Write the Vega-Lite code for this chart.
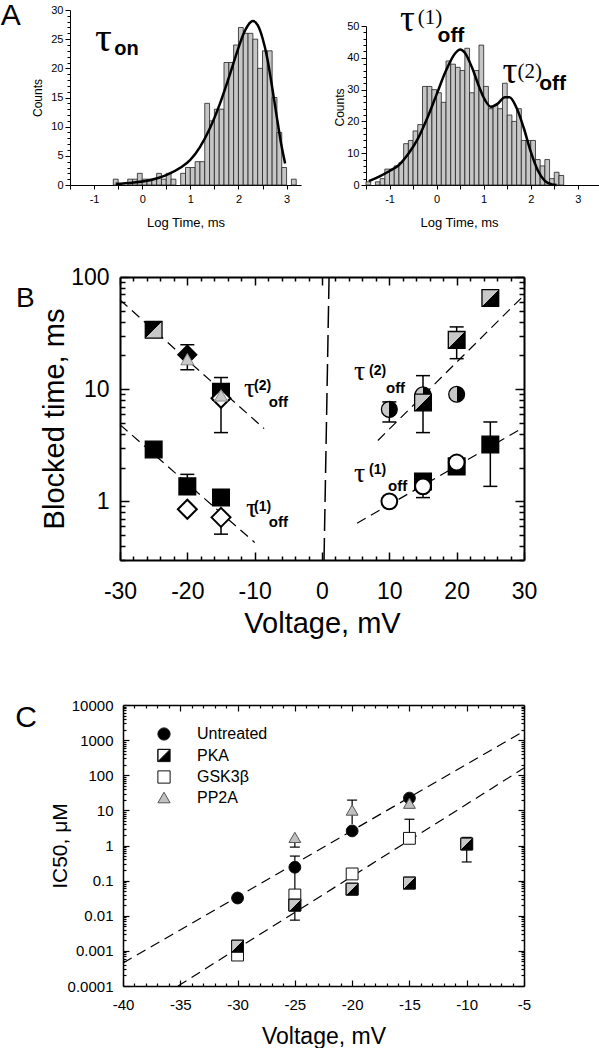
{
  "$schema": "https://vega.github.io/schema/vega-lite/v6.json",
  "padding": 0,
  "background": "white",
  "spacing": 0,
  "bounds": "flush",
  "config": {
    "view": {"stroke": null},
    "font": "Liberation Sans",
    "axis": {"grid": false, "labelColor": "black", "tickColor": "black", "domainColor": "black", "titleColor": "black", "labelFont": "Liberation Sans", "titleFont": "Liberation Sans", "titleFontWeight": "normal", "labelOverlap": false, "labelFlush": false, "labelBound": false},
    "text": {"font": "Liberation Sans", "color": "black"}
  },
  "datasets": {
    "histL": [
      {"x": -0.6, "xe": -0.5, "c": 1}, {"x": -0.3, "xe": -0.2, "c": 1}, {"x": -0.2, "xe": -0.1, "c": 1}, {"x": -0.1, "xe": 0, "c": 2},
      {"x": 0, "xe": 0.1, "c": 1}, {"x": 0.1, "xe": 0.2, "c": 1}, {"x": 0.2, "xe": 0.3, "c": 1}, {"x": 0.3, "xe": 0.4, "c": 2},
      {"x": 0.4, "xe": 0.5, "c": 1}, {"x": 0.5, "xe": 0.6, "c": 2}, {"x": 0.6, "xe": 0.7, "c": 1}, {"x": 0.8, "xe": 0.9, "c": 2},
      {"x": 0.9, "xe": 1, "c": 3}, {"x": 1, "xe": 1.1, "c": 3}, {"x": 1.1, "xe": 1.2, "c": 4}, {"x": 1.2, "xe": 1.3, "c": 4},
      {"x": 1.3, "xe": 1.4, "c": 14}, {"x": 1.4, "xe": 1.5, "c": 11}, {"x": 1.5, "xe": 1.6, "c": 13}, {"x": 1.6, "xe": 1.7, "c": 13},
      {"x": 1.7, "xe": 1.8, "c": 21}, {"x": 1.8, "xe": 1.9, "c": 21}, {"x": 1.9, "xe": 2, "c": 24}, {"x": 2, "xe": 2.1, "c": 27},
      {"x": 2.1, "xe": 2.2, "c": 26}, {"x": 2.2, "xe": 2.3, "c": 26}, {"x": 2.3, "xe": 2.4, "c": 25}, {"x": 2.4, "xe": 2.5, "c": 20},
      {"x": 2.5, "xe": 2.6, "c": 23}, {"x": 2.6, "xe": 2.7, "c": 23}, {"x": 2.7, "xe": 2.8, "c": 15}, {"x": 2.8, "xe": 2.9, "c": 9},
      {"x": 2.9, "xe": 3, "c": 3}, {"x": 3.1, "xe": 3.2, "c": 1}
    ],
    "curveL": [
      {"x": -0.55, "c": 0.2}, {"x": -0.2, "c": 0.4}, {"x": 0.2, "c": 0.9}, {"x": 0.5, "c": 1.7}, {"x": 0.8, "c": 3.0},
      {"x": 1.0, "c": 4.3}, {"x": 1.2, "c": 6.5}, {"x": 1.4, "c": 9.6}, {"x": 1.6, "c": 13.6}, {"x": 1.8, "c": 18.4},
      {"x": 2.0, "c": 23.5}, {"x": 2.1, "c": 25.8}, {"x": 2.2, "c": 27.4}, {"x": 2.3, "c": 28.1}, {"x": 2.4, "c": 27.4},
      {"x": 2.5, "c": 25.2}, {"x": 2.6, "c": 21.7}, {"x": 2.7, "c": 16.8}, {"x": 2.8, "c": 11.5}, {"x": 2.9, "c": 6.5}, {"x": 2.97, "c": 3.7}
    ],
    "histR": [
      {"x": -1.5, "xe": -1.4, "c": 1}, {"x": -1.3, "xe": -1.2, "c": 1}, {"x": -1.2, "xe": -1.1, "c": 2}, {"x": -1.1, "xe": -1.0, "c": 5},
      {"x": -1.0, "xe": -0.9, "c": 5}, {"x": -0.9, "xe": -0.8, "c": 6}, {"x": -0.8, "xe": -0.7, "c": 7}, {"x": -0.7, "xe": -0.6, "c": 13},
      {"x": -0.6, "xe": -0.5, "c": 14}, {"x": -0.5, "xe": -0.4, "c": 17}, {"x": -0.4, "xe": -0.3, "c": 19}, {"x": -0.3, "xe": -0.2, "c": 31},
      {"x": -0.2, "xe": -0.1, "c": 31}, {"x": -0.1, "xe": 0, "c": 30}, {"x": 0, "xe": 0.1, "c": 29}, {"x": 0.1, "xe": 0.2, "c": 26},
      {"x": 0.2, "xe": 0.3, "c": 39}, {"x": 0.3, "xe": 0.4, "c": 38}, {"x": 0.4, "xe": 0.5, "c": 37}, {"x": 0.5, "xe": 0.6, "c": 36},
      {"x": 0.6, "xe": 0.7, "c": 43}, {"x": 0.7, "xe": 0.8, "c": 29}, {"x": 0.8, "xe": 0.9, "c": 36}, {"x": 0.9, "xe": 1.0, "c": 44},
      {"x": 1.0, "xe": 1.1, "c": 31}, {"x": 1.1, "xe": 1.2, "c": 24}, {"x": 1.2, "xe": 1.3, "c": 25}, {"x": 1.3, "xe": 1.4, "c": 24},
      {"x": 1.4, "xe": 1.5, "c": 32}, {"x": 1.5, "xe": 1.6, "c": 22}, {"x": 1.6, "xe": 1.7, "c": 20}, {"x": 1.7, "xe": 1.8, "c": 24},
      {"x": 1.8, "xe": 1.9, "c": 14}, {"x": 1.9, "xe": 2.0, "c": 14}, {"x": 2.0, "xe": 2.1, "c": 14}, {"x": 2.1, "xe": 2.2, "c": 8},
      {"x": 2.2, "xe": 2.3, "c": 6}, {"x": 2.3, "xe": 2.4, "c": 8}, {"x": 2.4, "xe": 2.5, "c": 2}, {"x": 2.5, "xe": 2.6, "c": 4},
      {"x": 2.6, "xe": 2.7, "c": 3}
    ],
    "curveR": [
      {"x": -1.44, "c": 1.2}, {"x": -1.2, "c": 2.8}, {"x": -1.0, "c": 4.4}, {"x": -0.8, "c": 6.3}, {"x": -0.6, "c": 9.8},
      {"x": -0.4, "c": 14.5}, {"x": -0.2, "c": 21}, {"x": 0.0, "c": 28.5}, {"x": 0.2, "c": 36}, {"x": 0.4, "c": 41.5},
      {"x": 0.5, "c": 42.6}, {"x": 0.6, "c": 41.6}, {"x": 0.75, "c": 37}, {"x": 0.9, "c": 31}, {"x": 1.0, "c": 27.5},
      {"x": 1.15, "c": 24.6}, {"x": 1.3, "c": 25.6}, {"x": 1.45, "c": 27.6}, {"x": 1.55, "c": 27.6}, {"x": 1.7, "c": 24.2},
      {"x": 1.85, "c": 18}, {"x": 2.0, "c": 10.5}, {"x": 2.15, "c": 4.6}, {"x": 2.3, "c": 1.3}, {"x": 2.45, "c": 0.2}, {"x": 2.55, "c": 0}
    ],
    "bLines": [
      {"id": "L2", "V": -30, "t": 62.5}, {"id": "L2", "V": -8.6, "t": 4.45},
      {"id": "L1", "V": -30, "t": 4.83}, {"id": "L1", "V": -10, "t": 0.43},
      {"id": "R2", "V": 8.3, "t": 3.49}, {"id": "R2", "V": 29.6, "t": 65},
      {"id": "R1", "V": 5.2, "t": 0.637}, {"id": "R1", "V": 29.9, "t": 4.55}
    ],
    "bRules": [
      {"V": -20, "lo": 14.9, "hi": 24.9}, {"V": -15, "lo": 4.1, "hi": 12.7}, {"V": -20, "lo": 1.36, "hi": 1.74}, {"V": -15, "lo": 0.51, "hi": 0.72},
      {"V": 10, "lo": 5.1, "hi": 7.7}, {"V": 15, "lo": 4.1, "hi": 13.2}, {"V": 20, "lo": 18.7, "hi": 35.9}, {"V": 25, "lo": 55, "hi": 65},
      {"V": 15, "lo": 1.08, "hi": 1.36}, {"V": 25, "lo": 1.36, "hi": 5.1}
    ],
    "bCaps": [
      {"V": -20, "t": 24.9}, {"V": -20, "t": 14.9}, {"V": -15, "t": 12.7}, {"V": -15, "t": 4.1}, {"V": -20, "t": 1.74}, {"V": -15, "t": 0.51},
      {"V": 10, "t": 5.1}, {"V": 10, "t": 7.7}, {"V": 15, "t": 13.2}, {"V": 15, "t": 4.1}, {"V": 20, "t": 35.9}, {"V": 20, "t": 18.7},
      {"V": 25, "t": 55}, {"V": 15, "t": 1.08}, {"V": 25, "t": 5.1}, {"V": 25, "t": 1.36}
    ],
    "bPts": [
      {"s": "cirHalf", "V": 10, "t": 6.6}, {"s": "cirHalf", "V": 15, "t": 8.9}, {"s": "cirHalf", "V": 20, "t": 9.0},
      {"s": "sqHalfR", "V": 15, "t": 7.6}, {"s": "sqHalfR", "V": 20, "t": 27.5}, {"s": "sqHalfR", "V": 25, "t": 65},
      {"s": "sqBlk", "V": -15, "t": 9.5}, {"s": "sqBlk", "V": -25, "t": 2.9}, {"s": "sqBlk", "V": -20, "t": 1.36}, {"s": "sqBlk", "V": -15, "t": 1.08},
      {"s": "sqBlk", "V": 15, "t": 1.5}, {"s": "sqBlk", "V": 20, "t": 2.05}, {"s": "sqBlk", "V": 25, "t": 3.21},
      {"s": "cirWht", "V": 10, "t": 1.0}, {"s": "cirWht", "V": 15, "t": 1.36}, {"s": "cirWht", "V": 20, "t": 2.22},
      {"s": "sqHalfL", "V": -25, "t": 33.8},
      {"s": "diaBlk", "V": -20, "t": 20.3},
      {"s": "diaWht", "V": -15, "t": 8.3}, {"s": "diaWht", "V": -20, "t": 0.85}, {"s": "diaWht", "V": -15, "t": 0.72},
      {"s": "tri", "V": -20, "t": 18.5}, {"s": "tri", "V": -15, "t": 8.8}
    ],
    "bTau": [
      {"V": -11.6, "t": 8.58, "txt": "τ"}, {"V": -11.3, "t": 0.72, "txt": "τ"}, {"V": 4.75, "t": 12.1, "txt": "τ"}, {"V": 4.75, "t": 1.48, "txt": "τ"}
    ],
    "bSup": [
      {"V": -10.1, "t": 9.9, "txt": "(2)"}, {"V": -10.1, "t": 0.815, "txt": "(1)"}, {"V": 6.98, "t": 13.5, "txt": "(2)"}, {"V": 6.98, "t": 1.74, "txt": "(1)"}
    ],
    "bOff": [
      {"V": -7.9, "t": 6.99, "txt": "off"}, {"V": -7.9, "t": 0.587, "txt": "off"}, {"V": 9.5, "t": 9.3, "txt": "off"}, {"V": 9.8, "t": 1.23, "txt": "off"}
    ],
    "cLines": [
      {"id": "u", "V": -40, "t": 0.00045}, {"id": "u", "V": -5, "t": 1800},
      {"id": "l", "V": -35.2, "t": 0.0001}, {"id": "l", "V": -5, "t": 160}
    ],
    "cPts": [
      {"g": "Untreated", "V": -30, "t": 0.032}, {"g": "Untreated", "V": -25, "t": 0.24}, {"g": "Untreated", "V": -20, "t": 2.6}, {"g": "Untreated", "V": -15, "t": 22.4},
      {"g": "GSK3β", "V": -30, "t": 0.00076}, {"g": "GSK3β", "V": -25, "t": 0.039}, {"g": "GSK3β", "V": -20, "t": 0.155}, {"g": "GSK3β", "V": -15, "t": 1.6},
      {"g": "PKA", "V": -30, "t": 0.00136}, {"g": "PKA", "V": -25, "t": 0.02}, {"g": "PKA", "V": -20, "t": 0.057}, {"g": "PKA", "V": -15, "t": 0.085}, {"g": "PKA", "V": -10, "t": 1.1},
      {"g": "PP2A", "V": -25, "t": 1.7}, {"g": "PP2A", "V": -20, "t": 10.2}, {"g": "PP2A", "V": -15, "t": 16}
    ],
    "cRules": [
      {"V": -25, "lo": 0.0075, "hi": 0.5}, {"V": -25, "lo": 0.9, "hi": 1.7}, {"V": -20, "lo": 4.1, "hi": 19.6}, {"V": -15, "lo": 1.6, "hi": 5.6}, {"V": -10, "lo": 0.34, "hi": 1.7}
    ],
    "cCaps": [
      {"V": -25, "t": 0.5}, {"V": -25, "t": 0.0075}, {"V": -25, "t": 0.9}, {"V": -20, "t": 19.6}, {"V": -15, "t": 5.6}, {"V": -10, "t": 1.7}, {"V": -10, "t": 0.34}
    ]
  },
  "vconcat": [
    {
      "width": 529, "height": 175,
      "resolve": {"scale": {"x": "independent", "y": "independent"}, "axis": {"x": "independent", "y": "independent"}},
      "layer": [
        {
          "encoding": {
            "x": {"field": "x", "type": "quantitative", "scale": {"domain": [-1.5, 3.3], "range": [0, 231], "nice": false, "zero": false},
              "axis": {"orient": "bottom", "values": [-1.5, -1, -0.5, 0, 0.5, 1, 1.5, 2, 2.5, 3],
                "labelExpr": "datum.value % 1 === 0 ? toString(datum.value) : ''",
                "tickSize": 4, "labelFontSize": 11, "labelPadding": 4, "domainWidth": 1, "tickWidth": 1,
                "title": "Log Time, ms", "titleFontSize": 13, "titleBaseline": "alphabetic", "titleY": 41, "titleX": 115.5, "titleAlign": "center"}},
            "y": {"field": "c", "type": "quantitative", "stack": null, "scale": {"domain": [0, 30], "range": [175, 0], "nice": false},
              "axis": {"orient": "left", "values": [0, 1, 2, 3, 4, 5, 6, 7, 8, 9, 10, 11, 12, 13, 14, 15, 16, 17, 18, 19, 20, 21, 22, 23, 24, 25, 26, 27, 28, 29, 30],
                "labelExpr": "datum.value % 5 === 0 ? toString(datum.value) : ''",
                "tickSize": {"condition": {"test": "datum.value % 5 === 0", "value": 5}, "value": 3},
                "labelFontSize": 11, "labelPadding": 2, "domainWidth": 1, "tickWidth": 1,
                "title": "Counts", "titleFontSize": 12, "titleX": -29, "titleY": 87.5, "titleAngle": 270, "titleBaseline": "alphabetic"}}
          },
          "layer": [
            {"data": {"name": "histL"}, "mark": {"type": "bar", "fill": "#c6c6c6", "stroke": "#222222", "strokeWidth": 0.8}, "encoding": {"x2": {"field": "xe"}, "y2": {"datum": 0}}},
            {"data": {"name": "curveL"}, "mark": {"type": "line", "color": "black", "strokeWidth": 2.5, "interpolate": "monotone"}},
            {"data": {"values": [{"x": -0.98, "c": 23.0, "txt": "τ"}]}, "mark": {"type": "text", "font": "Liberation Serif", "fontSize": 42, "align": "left", "baseline": "alphabetic"}, "encoding": {"text": {"field": "txt"}}},
            {"data": {"values": [{"x": -0.58, "c": 22.3, "txt": "on"}]}, "mark": {"type": "text", "fontSize": 20, "fontWeight": "bold", "align": "left", "baseline": "alphabetic"}, "encoding": {"text": {"field": "txt"}}},
            {"data": {"values": [{"x": -2.9375, "c": 27.43, "txt": "A"}]}, "mark": {"type": "text", "fontSize": 30, "align": "left", "baseline": "alphabetic"}, "encoding": {"text": {"field": "txt"}}}
          ]
        },
        {
          "encoding": {
            "x": {"field": "x", "type": "quantitative", "scale": {"domain": [-1.5, 3.45], "range": [296, 529], "nice": false, "zero": false},
              "axis": {"orient": "bottom", "values": [-1.5, -1, -0.5, 0, 0.5, 1, 1.5, 2, 2.5, 3],
                "labelExpr": "datum.value % 1 === 0 ? toString(datum.value) : ''",
                "tickSize": 4, "labelFontSize": 11, "labelPadding": 4, "domainWidth": 1, "tickWidth": 1,
                "title": "Log Time, ms", "titleFontSize": 13, "titleBaseline": "alphabetic", "titleY": 41, "titleX": 389, "titleAlign": "center"}},
            "y": {"field": "c", "type": "quantitative", "stack": null, "scale": {"domain": [0, 50], "nice": false, "range": [175, 16]},
              "axis": {"orient": "left", "offset": -296, "values": [0, 2, 4, 6, 8, 10, 12, 14, 16, 18, 20, 22, 24, 26, 28, 30, 32, 34, 36, 38, 40, 42, 44, 46, 48, 50],
                "labelExpr": "datum.value % 10 === 0 ? toString(datum.value) : ''",
                "tickSize": {"condition": {"test": "datum.value % 10 === 0", "value": 5}, "value": 3},
                "labelFontSize": 11, "labelPadding": 2, "domainWidth": 1, "tickWidth": 1,
                "title": "Counts", "titleFontSize": 12, "titleX": -23, "titleY": 97, "titleAngle": 270, "titleBaseline": "alphabetic"}}
          },
          "layer": [
            {"data": {"name": "histR"}, "mark": {"type": "bar", "fill": "#c6c6c6", "stroke": "#222222", "strokeWidth": 0.8}, "encoding": {"x2": {"field": "xe"}, "y2": {"datum": 0}}},
            {"data": {"name": "curveR"}, "mark": {"type": "line", "color": "black", "strokeWidth": 2.5, "interpolate": "monotone"}},
            {"data": {"values": [{"x": -0.78, "c": 48.4, "txt": "τ"}, {"x": 1.4, "c": 32.1, "txt": "τ"}]}, "mark": {"type": "text", "font": "Liberation Serif", "fontSize": 37, "align": "left", "baseline": "alphabetic"}, "encoding": {"text": {"field": "txt"}}},
            {"data": {"values": [{"x": -0.4, "c": 50.6, "txt": "(1)"}, {"x": 1.72, "c": 33.6, "txt": "(2)"}]}, "mark": {"type": "text", "font": "Liberation Serif", "fontSize": 21, "align": "left", "baseline": "alphabetic"}, "encoding": {"text": {"field": "txt"}}},
            {"data": {"values": [{"x": 0.02, "c": 44.9, "txt": "off"}, {"x": 2.18, "c": 29.9, "txt": "off"}]}, "mark": {"type": "text", "fontSize": 21, "fontWeight": "bold", "align": "left", "baseline": "alphabetic"}, "encoding": {"text": {"field": "txt"}}}
          ]
        }
      ]
    },
    {"width": 1, "height": 92, "data": {"values": []}, "mark": "point"},
    {
      "width": 454, "height": 283,
      "resolve": {"axis": {"x": "independent", "y": "independent"}},
      "encoding": {
        "x": {"field": "V", "type": "quantitative", "scale": {"domain": [-30, 30], "range": [50, 454], "nice": false, "zero": false}, "axis": null},
        "y": {"field": "t", "type": "quantitative", "scale": {"type": "log", "domain": [0.3, 100], "nice": false}, "axis": null}
      },
      "layer": [
        {"data": {"name": "bLines"}, "mark": {"type": "line", "color": "black", "strokeWidth": 1.2, "strokeDash": [10, 6]},
          "encoding": {
            "detail": {"field": "id"},
            "x": {"field": "V", "type": "quantitative", "scale": {"domain": [-30, 30], "range": [50, 454], "nice": false, "zero": false},
              "axis": {"orient": "bottom", "values": [-30, -28, -26, -24, -22, -20, -18, -16, -14, -12, -10, -8, -6, -4, -2, 0, 2, 4, 6, 8, 10, 12, 14, 16, 18, 20, 22, 24, 26, 28, 30],
                "labelExpr": "datum.value % 10 === 0 ? toString(datum.value) : ''",
                "tickSize": {"condition": {"test": "datum.value % 10 === 0", "value": -8}, "value": -4},
                "tickWidth": 1.5, "domainWidth": 2, "labelFontSize": 23, "labelPadding": 28,
                "title": "Voltage, mV", "titleFontSize": 29, "titleBaseline": "alphabetic", "titleY": 72, "titleX": 252, "titleAlign": "center"}},
            "y": {"field": "t", "type": "quantitative", "scale": {"type": "log", "domain": [0.3, 100], "nice": false},
              "axis": {"orient": "left", "offset": -50, "values": [0.3, 0.4, 0.5, 0.6, 0.7, 0.8, 0.9, 1, 2, 3, 4, 5, 6, 7, 8, 9, 10, 20, 30, 40, 50, 60, 70, 80, 90, 100],
                "labelExpr": "indexof([1, 10, 100], datum.value) >= 0 ? toString(datum.value) : ''",
                "tickSize": {"condition": {"test": "indexof([1, 10, 100], datum.value) >= 0", "value": -9}, "value": -5},
                "tickWidth": 1.5, "domainWidth": 2, "labelFontSize": 23, "labelPadding": 20,
                "title": "Blocked time, ms", "titleFontSize": 29, "titleX": -57, "titleY": 141.5, "titleAngle": 270, "titleBaseline": "alphabetic"}}
          }},
        {"data": {"values": [{"V": 0.3, "t": 0.3}, {"V": 1.05, "t": 100}]}, "mark": {"type": "line", "color": "black", "strokeWidth": 1.5, "strokeDash": [22, 7]}},
        {"data": {"name": "bRules"}, "mark": {"type": "rule", "color": "black", "strokeWidth": 1.5},
          "encoding": {
            "x": {"field": "V", "type": "quantitative", "scale": {"domain": [-30, 30], "range": [50, 454], "nice": false, "zero": false},
              "axis": {"orient": "top", "values": [-30, -28, -26, -24, -22, -20, -18, -16, -14, -12, -10, -8, -6, -4, -2, 0, 2, 4, 6, 8, 10, 12, 14, 16, 18, 20, 22, 24, 26, 28, 30],
                "labels": false, "tickSize": {"condition": {"test": "datum.value % 10 === 0", "value": -8}, "value": -4},
                "tickWidth": 1.5, "domainWidth": 2, "title": null}},
            "y": {"field": "lo", "type": "quantitative", "scale": {"type": "log", "domain": [0.3, 100], "nice": false},
              "axis": {"orient": "right", "values": [0.3, 0.4, 0.5, 0.6, 0.7, 0.8, 0.9, 1, 2, 3, 4, 5, 6, 7, 8, 9, 10, 20, 30, 40, 50, 60, 70, 80, 90, 100],
                "labels": false, "tickSize": {"condition": {"test": "indexof([1, 10, 100], datum.value) >= 0", "value": -9}, "value": -5},
                "tickWidth": 1.5, "domainWidth": 2, "title": null}},
            "y2": {"field": "hi"}
          }},
        {"data": {"name": "bCaps"}, "mark": {"type": "tick", "orient": "horizontal", "color": "black", "size": 14, "thickness": 1.5, "opacity": 1}},
        {"data": {"name": "bPts"}, "transform": [{"filter": "datum.s === 'cirHalf'"}],
          "mark": {"type": "point", "shape": "circle", "filled": true, "size": 250, "opacity": 1, "stroke": "black", "strokeWidth": 1.3,
            "fill": {"gradient": "linear", "x1": 0, "y1": 0, "x2": 1, "y2": 0, "stops": [{"offset": 0, "color": "#c8c8c8"}, {"offset": 0.5, "color": "#c8c8c8"}, {"offset": 0.5, "color": "#000000"}, {"offset": 1, "color": "#000000"}]}}},
        {"data": {"name": "bPts"}, "transform": [{"filter": "datum.s === 'sqHalfR'"}],
          "mark": {"type": "point", "shape": "square", "filled": true, "size": 280, "opacity": 1, "stroke": "black", "strokeWidth": 1.3,
            "fill": {"gradient": "linear", "x1": 0, "y1": 0, "x2": 1, "y2": 1, "stops": [{"offset": 0, "color": "#c8c8c8"}, {"offset": 0.5, "color": "#c8c8c8"}, {"offset": 0.5, "color": "#000000"}, {"offset": 1, "color": "#000000"}]}}},
        {"data": {"name": "bPts"}, "transform": [{"filter": "datum.s === 'sqBlk'"}],
          "mark": {"type": "point", "shape": "square", "filled": true, "size": 280, "opacity": 1, "fill": "black", "stroke": "black", "strokeWidth": 1.3}},
        {"data": {"name": "bPts"}, "transform": [{"filter": "datum.s === 'cirWht'"}],
          "mark": {"type": "point", "shape": "circle", "filled": true, "size": 250, "opacity": 1, "fill": "white", "stroke": "black", "strokeWidth": 2}},
        {"data": {"name": "bPts"}, "transform": [{"filter": "datum.s === 'sqHalfL'"}],
          "mark": {"type": "point", "shape": "square", "filled": true, "size": 280, "opacity": 1, "stroke": "black", "strokeWidth": 1.3,
            "fill": {"gradient": "linear", "x1": 0, "y1": 0, "x2": 1, "y2": 1, "stops": [{"offset": 0, "color": "#000000"}, {"offset": 0.5, "color": "#000000"}, {"offset": 0.5, "color": "#c8c8c8"}, {"offset": 1, "color": "#c8c8c8"}]}}},
        {"data": {"name": "bPts"}, "transform": [{"filter": "datum.s === 'diaBlk'"}],
          "mark": {"type": "point", "shape": "diamond", "filled": true, "size": 360, "opacity": 1, "fill": "black", "stroke": "black", "strokeWidth": 1.3}},
        {"data": {"name": "bPts"}, "transform": [{"filter": "datum.s === 'diaWht'"}],
          "mark": {"type": "point", "shape": "diamond", "filled": true, "size": 360, "opacity": 1, "fill": "white", "stroke": "black", "strokeWidth": 2}},
        {"data": {"name": "bPts"}, "transform": [{"filter": "datum.s === 'tri'"}],
          "mark": {"type": "point", "shape": "triangle-up", "filled": true, "size": 170, "opacity": 1, "fill": "#c8c8c8", "stroke": "#888888", "strokeWidth": 1}},
        {"data": {"name": "bTau"}, "mark": {"type": "text", "font": "Liberation Serif", "fontSize": 28, "align": "left", "baseline": "alphabetic"}, "encoding": {"text": {"field": "txt"}}},
        {"data": {"name": "bSup"}, "mark": {"type": "text", "fontSize": 14, "fontWeight": "bold", "align": "left", "baseline": "alphabetic"}, "encoding": {"text": {"field": "txt"}}},
        {"data": {"name": "bOff"}, "mark": {"type": "text", "fontSize": 15, "fontWeight": "bold", "align": "left", "baseline": "alphabetic"}, "encoding": {"text": {"field": "txt"}}},
        {"data": {"values": [{"V": -45.45, "t": 54, "txt": "B"}]}, "mark": {"type": "text", "fontSize": 28, "align": "left", "baseline": "alphabetic"}, "encoding": {"text": {"field": "txt"}}}
      ]
    },
    {"width": 1, "height": 145, "data": {"values": []}, "mark": "point"},
    {
      "width": 454, "height": 281,
      "resolve": {"axis": {"x": "independent", "y": "independent"}},
      "encoding": {
        "x": {"field": "V", "type": "quantitative", "scale": {"domain": [-40, -5], "range": [53, 454], "nice": false, "zero": false}, "axis": null},
        "y": {"field": "t", "type": "quantitative", "scale": {"type": "log", "domain": [0.0001, 10000], "nice": false}, "axis": null}
      },
      "layer": [
        {"data": {"name": "cLines"}, "mark": {"type": "line", "color": "black", "strokeWidth": 1.2, "strokeDash": [10, 6]},
          "encoding": {
            "detail": {"field": "id"},
            "x": {"field": "V", "type": "quantitative", "scale": {"domain": [-40, -5], "range": [53, 454], "nice": false, "zero": false},
              "axis": {"orient": "bottom", "values": [-40, -39, -38, -37, -36, -35, -34, -33, -32, -31, -30, -29, -28, -27, -26, -25, -24, -23, -22, -21, -20, -19, -18, -17, -16, -15, -14, -13, -12, -11, -10, -9, -8, -7, -6, -5],
                "labelExpr": "datum.value % 5 === 0 ? toString(datum.value) : ''",
                "tickSize": {"condition": {"test": "datum.value % 5 === 0", "value": -6}, "value": -3},
                "tickWidth": 1.2, "domainWidth": 1.5, "labelFontSize": 15, "labelPadding": 17,
                "title": "Voltage, mV", "titleFontSize": 23, "titleBaseline": "alphabetic", "titleY": 57, "titleX": 253.5, "titleAlign": "center"}},
            "y": {"field": "t", "type": "quantitative", "scale": {"type": "log", "domain": [0.0001, 10000], "nice": false},
              "axis": {"orient": "left", "offset": -53, "values": [0.0001, 0.0002, 0.0003, 0.0004, 0.0005, 0.0006, 0.0007, 0.0008, 0.0009, 0.001, 0.002, 0.003, 0.004, 0.005, 0.006, 0.007, 0.008, 0.009, 0.01, 0.02, 0.03, 0.04, 0.05, 0.06, 0.07, 0.08, 0.09, 0.1, 0.2, 0.3, 0.4, 0.5, 0.6, 0.7, 0.8, 0.9, 1, 2, 3, 4, 5, 6, 7, 8, 9, 10, 20, 30, 40, 50, 60, 70, 80, 90, 100, 200, 300, 400, 500, 600, 700, 800, 900, 1000, 2000, 3000, 4000, 5000, 6000, 7000, 8000, 9000, 10000],
                "labelExpr": "indexof([0.0001, 0.001, 0.01, 0.1, 1, 10, 100, 1000, 10000], datum.value) >= 0 ? toString(datum.value) : ''",
                "tickSize": {"condition": {"test": "indexof([0.0001, 0.001, 0.01, 0.1, 1, 10, 100, 1000, 10000], datum.value) >= 0", "value": -6}, "value": -3},
                "tickWidth": 1.2, "domainWidth": 1.5, "labelFontSize": 15, "labelPadding": 16,
                "title": "IC50, μM", "titleFontSize": 21, "titleX": -57, "titleY": 140.5, "titleAngle": 270, "titleBaseline": "alphabetic"}}
          }},
        {"data": {"name": "cRules"}, "mark": {"type": "rule", "color": "black", "strokeWidth": 1.2},
          "encoding": {
            "x": {"field": "V", "type": "quantitative", "scale": {"domain": [-40, -5], "range": [53, 454], "nice": false, "zero": false},
              "axis": {"orient": "top", "values": [-40, -39, -38, -37, -36, -35, -34, -33, -32, -31, -30, -29, -28, -27, -26, -25, -24, -23, -22, -21, -20, -19, -18, -17, -16, -15, -14, -13, -12, -11, -10, -9, -8, -7, -6, -5],
                "labels": false, "tickSize": {"condition": {"test": "datum.value % 5 === 0", "value": -6}, "value": -3},
                "tickWidth": 1.2, "domainWidth": 1.5, "title": null}},
            "y": {"field": "lo", "type": "quantitative", "scale": {"type": "log", "domain": [0.0001, 10000], "nice": false},
              "axis": {"orient": "right", "values": [0.0001, 0.0002, 0.0003, 0.0004, 0.0005, 0.0006, 0.0007, 0.0008, 0.0009, 0.001, 0.002, 0.003, 0.004, 0.005, 0.006, 0.007, 0.008, 0.009, 0.01, 0.02, 0.03, 0.04, 0.05, 0.06, 0.07, 0.08, 0.09, 0.1, 0.2, 0.3, 0.4, 0.5, 0.6, 0.7, 0.8, 0.9, 1, 2, 3, 4, 5, 6, 7, 8, 9, 10, 20, 30, 40, 50, 60, 70, 80, 90, 100, 200, 300, 400, 500, 600, 700, 800, 900, 1000, 2000, 3000, 4000, 5000, 6000, 7000, 8000, 9000, 10000],
                "labels": false, "tickSize": {"condition": {"test": "indexof([0.0001, 0.001, 0.01, 0.1, 1, 10, 100, 1000, 10000], datum.value) >= 0", "value": -6}, "value": -3},
                "tickWidth": 1.2, "domainWidth": 1.5, "title": null}},
            "y2": {"field": "hi"}
          }},
        {"data": {"name": "cCaps"}, "mark": {"type": "tick", "orient": "horizontal", "color": "black", "size": 10, "thickness": 1.2, "opacity": 1}},
        {"data": {"name": "cPts"}, "mark": {"type": "point", "filled": true, "size": 140, "opacity": 1, "strokeWidth": 1},
          "encoding": {
            "fill": {"field": "g", "type": "nominal",
              "scale": {"domain": ["Untreated", "PKA", "GSK3β", "PP2A"], "range": ["#000000", "#000000", "#ffffff", "#c0c0c0"]},
              "legend": {"title": null, "orient": "none", "legendX": 86, "legendY": 716, "labelFont": "Liberation Sans", "labelFontSize": 16, "labelColor": "black", "symbolSize": 150, "symbolStrokeWidth": 1, "symbolOpacity": 1, "rowPadding": 3.5, "labelOffset": 25, "padding": 0}},
            "shape": {"field": "g", "type": "nominal",
              "scale": {"domain": ["Untreated", "PKA", "GSK3β", "PP2A"], "range": ["circle", "M-1,-1L1,-1L1,1L-1,1Z M-1,-1L-1,1L1,-1Z", "square", "triangle-up"]},
              "legend": {"title": null, "orient": "none", "legendX": 86, "legendY": 716, "labelFont": "Liberation Sans", "labelFontSize": 16, "labelColor": "black", "symbolSize": 150, "symbolStrokeWidth": 1, "symbolOpacity": 1, "rowPadding": 3.5, "labelOffset": 25, "padding": 0}},
            "stroke": {"field": "g", "type": "nominal",
              "scale": {"domain": ["Untreated", "PKA", "GSK3β", "PP2A"], "range": ["#111111", "#111111", "#111111", "#555555"]},
              "legend": {"title": null, "orient": "none", "legendX": 86, "legendY": 716, "labelFont": "Liberation Sans", "labelFontSize": 16, "labelColor": "black", "symbolSize": 150, "symbolStrokeWidth": 1, "symbolOpacity": 1, "rowPadding": 3.5, "labelOffset": 25, "padding": 0}}
          }},
        {"data": {"name": "cPts"}, "transform": [{"filter": "datum.g === 'PKA'"}],
          "mark": {"type": "point", "shape": "square", "filled": true, "size": 140, "opacity": 1, "stroke": "#111111", "strokeWidth": 1,
            "fill": {"gradient": "linear", "x1": 0, "y1": 0, "x2": 1, "y2": 1, "stops": [{"offset": 0, "color": "#c8c8c8"}, {"offset": 0.5, "color": "#c8c8c8"}, {"offset": 0.5, "color": "#000000"}, {"offset": 1, "color": "#000000"}]}}},
        {"data": {"values": [{"V": -49.4, "t": 2360, "txt": "C"}]}, "mark": {"type": "text", "fontSize": 30, "align": "left", "baseline": "alphabetic"}, "encoding": {"text": {"field": "txt"}}}
      ]
    }
  ]
}
